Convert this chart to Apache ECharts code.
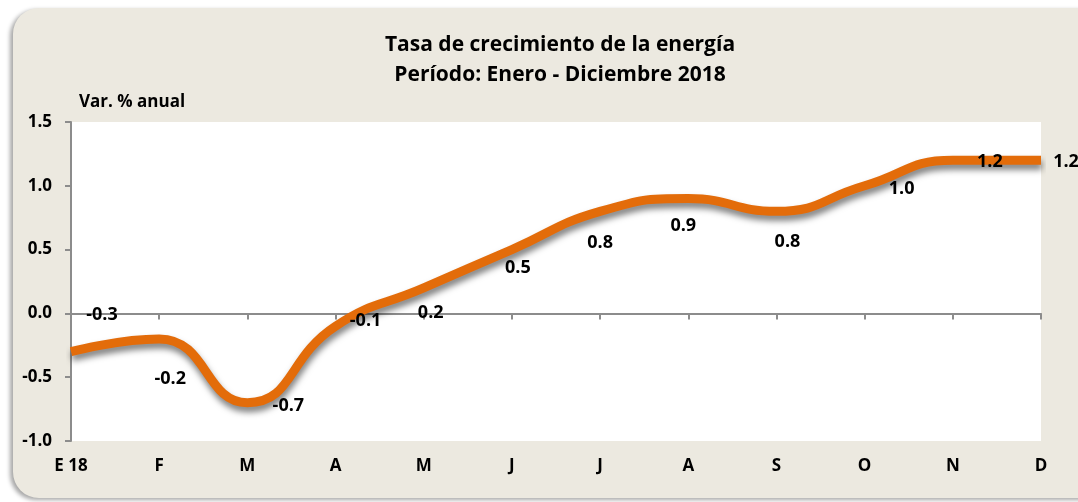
<!DOCTYPE html>
<html>
<head>
<meta charset="utf-8">
<script src="https://cdn.jsdelivr.net/npm/echarts@6/dist/echarts.min.js"></script>
<style>
  html, body { margin: 0; padding: 0; background: #ffffff; overflow: hidden; }
  #card {
    position: absolute; left: 13px; top: 8px; width: 1110px; height: 490px;
    background: #ECE9E0; border-radius: 26px;
    box-shadow: -3px 2px 4px rgba(0,0,0,0.35);
  }
  #main { position: absolute; left: 0; top: 0; width: 1078px; height: 502px; }
</style>
</head>
<body>
<div id="card"></div>
<div id="main"></div>
<script>
// months (Enero - Diciembre 2018)
var months = ['E 18', 'F', 'M', 'A', 'M', 'J', 'J', 'A', 'S', 'O', 'N', 'D'];
// Var. % anual
var growth = [-0.3, -0.2, -0.7, -0.1, 0.2, 0.5, 0.8, 0.9, 0.8, 1.0, 1.2, 1.2];
var yTicks = [-1.0, -0.5, 0.0, 0.5, 1.0, 1.5];

// where each data label sits relative to its point (moved by hand in the original)
var labelOffsets = [
    [31, -37], [11, 40], [41, 3], [30, -5], [7, 25], [6, 18],
    [0, 32], [-5, 27], [11, 31], [37, 3], [37, 2], [25, 2]
];

var font = '"Open Sans", Lato, sans-serif';

option = {
    backgroundColor: 'transparent',
    title: {
        text: 'Tasa de crecimiento de la energía\nPeríodo: Enero - Diciembre 2018',
        left: 555,
        top: 25,
        textAlign: 'center',
        textStyle: {
            fontFamily: font,
            fontWeight: 'bold',
            fontSize: 21,
            lineHeight: 30,
            color: '#000'
        }
    },
    grid: {
        show: true,
        backgroundColor: '#ffffff',
        borderWidth: 0,
        left: 71,
        top: 122,
        right: 37,
        bottom: 61
    },
    xAxis: [{
        type: 'category',
        data: months,
        boundaryGap: false,
        position: 'bottom',
        axisLine: { show: false, onZero: false },
        axisTick: { show: false },
        axisLabel: {
            margin: 17,
            fontFamily: font,
            fontWeight: 'bold',
            fontSize: 17,
            color: '#000'
        },
        splitLine: { show: false }
    }, {
        type: 'category',
        data: months,
        boundaryGap: false,
        position: 'bottom',
        axisLine: {
            show: true,
            onZero: true,
            onZeroAxisIndex: 0,
            lineStyle: { color: '#8c8c8c', width: 2 }
        },
        axisTick: {
            show: true,
            length: 6,
            interval: 0,
            lineStyle: { color: '#8c8c8c', width: 2 }
        },
        axisLabel: { show: false },
        splitLine: { show: false }
    }],
    yAxis: {
        type: 'value',
        min: yTicks[0],
        max: yTicks[yTicks.length - 1],
        interval: 0.5,
        name: 'Var. % anual',
        nameLocation: 'end',
        nameGap: 11,
        nameTextStyle: {
            align: 'left',
            padding: [0, 0, 0, 8],
            fontFamily: font,
            fontWeight: 'bold',
            fontSize: 17,
            color: '#000'
        },
        axisLine: { show: true, lineStyle: { color: '#8c8c8c', width: 2 } },
        axisTick: { show: true, length: 6, lineStyle: { color: '#8c8c8c', width: 2 } },
        axisLabel: {
            margin: 19,
            fontFamily: font,
            fontWeight: 'bold',
            fontSize: 17,
            color: '#000',
            formatter: function (v) { return v.toFixed(1); }
        },
        splitLine: { show: false }
    },
    series: [{
        type: 'line',
        xAxisIndex: 0,
        smooth: 0.5,
        symbol: 'circle',
        symbolSize: 1,
        showSymbol: true,
        itemStyle: { color: 'rgba(0,0,0,0)' },
        lineStyle: {
            color: '#E36C0A',
            width: 9,
            shadowColor: 'rgba(0,0,0,0.5)',
            shadowBlur: 6,
            shadowOffsetX: 1,
            shadowOffsetY: 5
        },
        label: {
            show: true,
            position: 'inside',
            fontFamily: font,
            fontWeight: 'bold',
            fontSize: 18,
            color: '#000',
            formatter: function (p) { return p.value.toFixed(1); }
        },
        data: growth.map(function (v, i) {
            return { value: v, label: { offset: labelOffsets[i] } };
        })
    }]
};

var myChart = echarts.init(document.getElementById('main'));
myChart.setOption(option);
</script>
</body>
</html>
